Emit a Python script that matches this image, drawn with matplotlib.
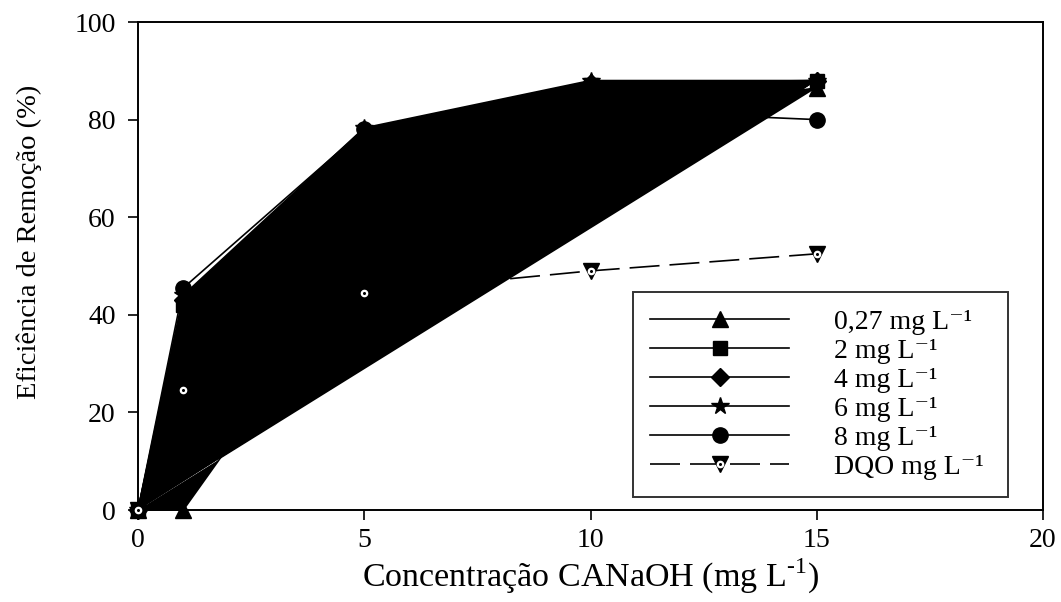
import matplotlib
matplotlib.use("Agg")
import matplotlib.pyplot as plt
from matplotlib.legend_handler import HandlerTuple

plt.rcParams['font.family'] = ['Liberation Serif', 'DejaVu Serif']
plt.rcParams['mathtext.fontset'] = 'custom'
plt.rcParams['mathtext.rm'] = 'Liberation Serif'

# Data
conc = [0, 1, 5, 10, 15]
s_027 = [0, 0, 52, 80, 86.5]
s_2 = [0, 42, 75, 87, 88]
s_4 = [0, 43, 76, 87.5, 88]
s_6 = [0, 44, 78.3, 88, 88]
s_8 = [0, 45.5, 78, 82, 80]
dqo = [0, 24.5, 44.5, 49, 52.5]

labels = ['0,27 mg L⁻¹', '2 mg L⁻¹', '4 mg L⁻¹',
          '6 mg L⁻¹', '8 mg L⁻¹', 'DQO mg L⁻¹']

fig = plt.figure(figsize=(10.61, 6.02), dpi=100)
ax = fig.add_axes([138/1061, 1-510/602, (1043-138)/1061, (510-22)/602])

# filled areas (as in the original rendering)
for s in [s_027, s_2, s_4, s_6]:
    ax.fill(conc, s, color='black', lw=0, zorder=1)

specs = [(s_027, '^', 11), (s_2, 's', 10), (s_4, 'D', 9), (s_6, '*', 13), (s_8, 'o', 11)]
handles = []
for s, m, ms in specs:
    ln, = ax.plot(conc, s, color='black', lw=1.2, marker=m, ms=ms,
                  mfc='black', mec='black', zorder=3, clip_on=False)
    handles.append(ln)

d1, = ax.plot(conc, dqo, color='black', lw=1.2, dashes=(18, 6), marker='v', ms=11,
              mfc='black', mec='black', zorder=3, clip_on=False)
d2, = ax.plot(conc, dqo, ls='none', marker='o', ms=4.5, mfc='white', mec='white',
              zorder=4, clip_on=False)
d3, = ax.plot(conc, dqo, ls='none', marker='o', ms=1.2, mfc='black', mec='black',
              zorder=5, clip_on=False)
handles.append((d1, d2, d3))

ax.set_xlim(0, 20)
ax.set_ylim(0, 100)
ax.set_xticks([0, 5, 10, 15, 20])
ax.set_yticks([0, 20, 40, 60, 80, 100])
ax.tick_params(direction='out', length=7, width=1.2, labelsize=20)
ax.tick_params(axis='x', pad=6)
ax.tick_params(axis='y', pad=9)
for sp in ax.spines.values():
    sp.set_linewidth(1.4)

ax.set_xlabel('Concentração CANaOH (mg L$^{\\text{-1}}$)', fontsize=24.5, labelpad=3)
ax.set_ylabel('Eficiência de Remoção (%)', fontsize=20.5)
ax.yaxis.set_label_coords(-0.106, 0.549)

leg = ax.legend(handles, labels, loc='upper left', mode='expand',
                bbox_to_anchor=(633/1061, 1-492/602, 375/1061, 200/602),
                bbox_transform=fig.transFigure,
                handler_map={tuple: HandlerTuple(ndivide=1)},
                fontsize=20, frameon=True, fancybox=False, edgecolor='black',
                handlelength=5.0, handletextpad=1.6, labelspacing=0.13,
                borderpad=0.62, numpoints=1, borderaxespad=0)
leg.get_frame().set_linewidth(1.4)

fig.savefig('out.png', dpi=100)
